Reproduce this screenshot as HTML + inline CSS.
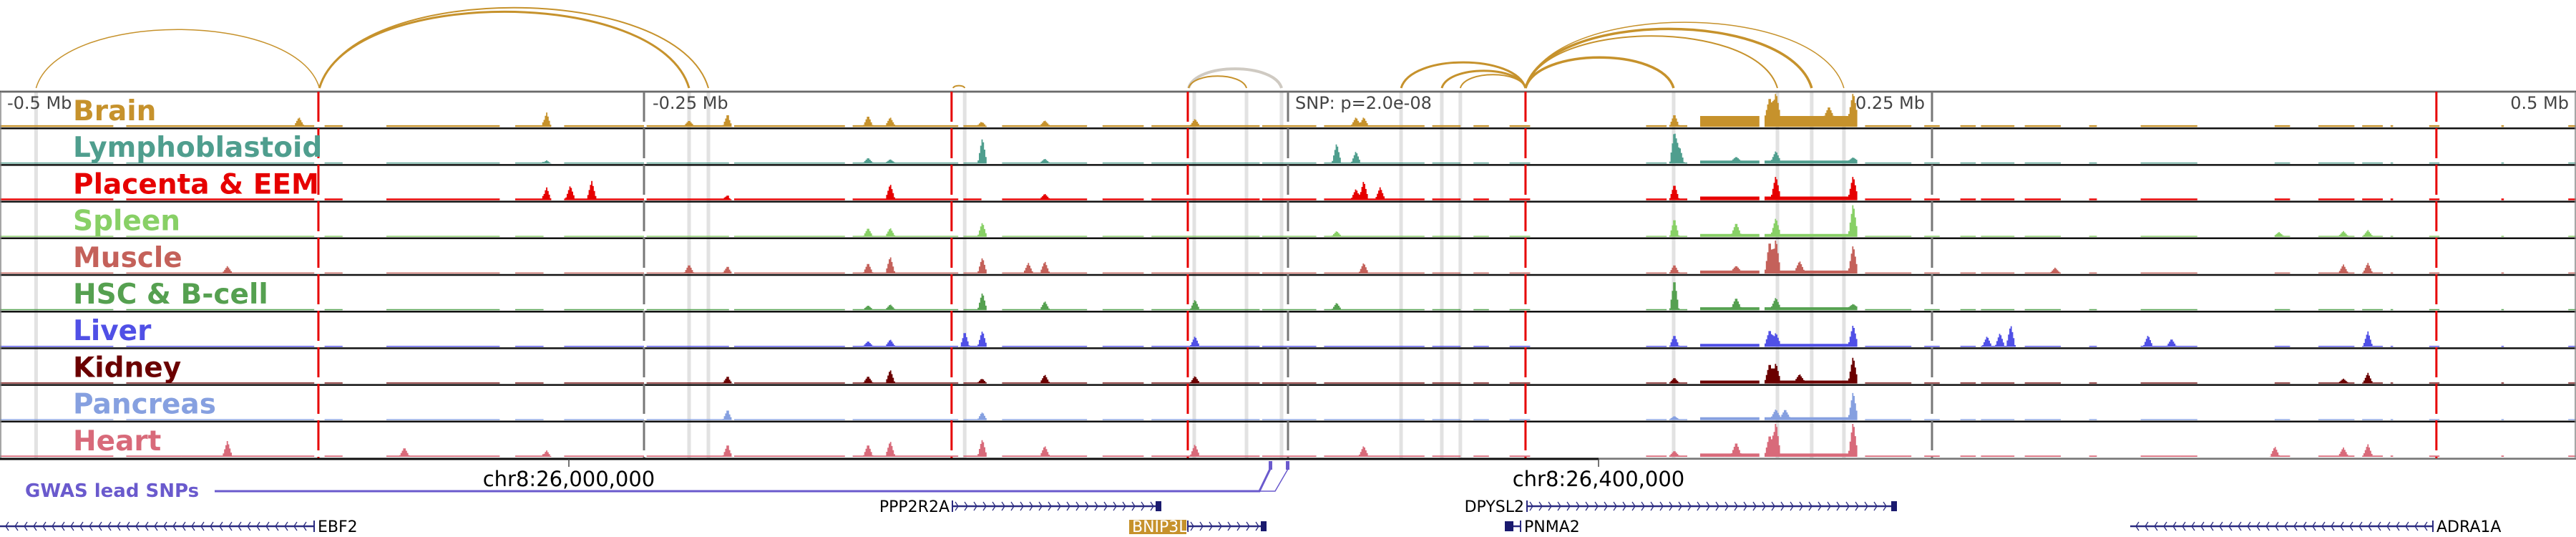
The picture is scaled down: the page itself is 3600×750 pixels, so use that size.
<!DOCTYPE html>
<html><head><meta charset="utf-8">
<style>
html,body{margin:0;padding:0;background:#fff;}
svg{display:block;}
text{font-family:"DejaVu Sans","Liberation Sans",sans-serif;}
</style></head>
<body>
<svg id="chart" width="3600" height="750" viewBox="0 0 3600 750" xmlns="http://www.w3.org/2000/svg">
<g id="bands"></g>
<g id="tracks"></g>
<g id="vlines"></g>
<g id="arcs"></g>
<g id="labels"></g>
<g fill="#444" font-size="24">
  <text x="10" y="152">-0.5 Mb</text>
  <text x="912" y="152">-0.25 Mb</text>
  <text x="1810" y="152">SNP: p=2.0e-08</text>
  <text x="2690" y="152" text-anchor="end">0.25 Mb</text>
  <text x="3590" y="152" text-anchor="end">0.5 Mb</text>
</g>
<g>
  <line x1="0" y1="641" x2="2234" y2="641" stroke="#111" stroke-width="3"/>
  <line x1="2234" y1="641" x2="3600" y2="641" stroke="#777" stroke-width="2"/>
  <line x1="795" y1="641" x2="795" y2="652" stroke="#444" stroke-width="1.5"/>
  <line x1="2234" y1="641" x2="2234" y2="652" stroke="#444" stroke-width="1.5"/>
  <text x="795" y="679" font-size="29" text-anchor="middle" fill="#000">chr8:26,000,000</text>
  <text x="2234" y="679" font-size="29" text-anchor="middle" fill="#000">chr8:26,400,000</text>
</g>
<g>
  <text x="35" y="694" font-size="26" font-weight="bold" fill="#6a5acd">GWAS lead SNPs</text>
  <polyline points="300,686 1760,686 1775,655" fill="none" stroke="#6a5acd" stroke-width="3"/>
  <polyline points="1760,686 1782,686 1800,655" fill="none" stroke="#6a5acd" stroke-width="1.5"/>
  <rect x="1773" y="644" width="5" height="12" fill="#6a5acd"/>
  <rect x="1797" y="644" width="5" height="12" fill="#6a5acd"/>
</g>
<g id="genes"></g>
</svg>
<script>
// ---- data ----
const trackNames = ["Brain","Lymphoblastoid","Placenta & EEM","Spleen","Muscle","HSC & B-cell","Liver","Kidney","Pancreas","Heart"];
const trackColors = ["#c6922c","#4f9e8e","#e60000","#88d066","#c4615a","#55a050","#5050e6","#6b0000","#86a0e0","#d86a7a"];
const baseLevels = [0.05,0.03,0.05,0.03,0.03,0.03,0.03,0.03,0.03,0.04];
const activeSegments = [[-500,-456],[-451,-378],[-374,-367],[-350,-306],[-300,-289],[-281,-250],[-249,-217],[-215,-172],[-169,-128],[-126,-119],[-111,-78],[-72,-56],[-53,-11],[-10,11],[14,53],[56,67],[72,78],[86,94],[139,147],[148,155],[160,183],[185,221],[224,242],[247,253],[261,267],[269,282],[286,300],[311,314],[331,353],[383,389],[400,414],[417,425],[428,429],[443,447],[471,472],[497,500]];
const blockBrain = [[160,221,0.28]];
const blockOther = [[160,221,0.06]];
const peaksBrain = [[-383.9,.25],[-287.8,.45],[-217.5,.35],[-232.5,.15],[-163,.3],[-154.4,.25],[-118.6,.15],[-94.4,.15],[-36.1,.2],[26.4,.25],[29.4,.25],[150,.35],[187,.6],[189.4,.75],[219.4,.75],[210,.3]];
const peaksLympho = [[-287.8,.1],[-163,.15],[-154.4,.1],[-118.6,.8],[-94.4,.12],[18.9,.6],[26.4,.35],[150,1],[152,.5],[174,.12],[189.4,.3],[219.4,.1]];
const peaksPlacenta = [[-287.8,.4],[-278.6,.4],[-270.3,.55],[-154.4,.45],[-94.4,.15],[-217.5,.1],[29.4,.55],[35.8,.35],[26.4,.3],[150,.45],[189.4,.65],[219.4,.65]];
const peaksSpleen = [[-163,.25],[-154.4,.25],[-118.6,.45],[18.9,.15],[150,.55],[174,.35],[189.4,.5],[219.4,.95],[384.7,.12],[409.7,.15],[419.2,.18]];
const peaksMuscle = [[-411.7,.2],[-232.5,.25],[-217.5,.2],[-163,.3],[-154.4,.5],[-118.6,.5],[-100.8,.3],[-94.4,.35],[29.4,.3],[150,.25],[174,.15],[187,.95],[189.4,1],[198.6,.3],[219.4,.8],[297.8,.15],[409.7,.25],[419.2,.3]];
const peaksHSC = [[-163,.12],[-154.4,.15],[-118.6,.55],[-94.4,.25],[-36.1,.3],[18.9,.2],[150,.95],[174,.3],[189.4,.3],[219.4,.1]];
const peaksLiver = [[-163,.15],[-154.4,.2],[-125.5,.45],[-118.6,.5],[-36.1,.3],[150,.35],[187,.45],[189.4,.35],[219.4,.6],[271.4,.3],[276.4,.4],[280.6,.65],[333.9,.33],[343,.22],[419.2,.45]];
const peaksKidney = [[-217.5,.2],[-163,.2],[-154.4,.4],[-118.6,.15],[-94.4,.25],[-36.1,.2],[150,.15],[187,.55],[189.4,.55],[198.6,.2],[219.4,.75],[409.7,.12],[419.2,.3]];
const peaksPancreas = [[-217.5,.3],[-118.6,.25],[150,.1],[189.4,.25],[193,.25],[219.4,.8]];
const peaksHeart = [[-411.7,.45],[-343,.25],[-287.8,.2],[-217.5,.35],[-163,.35],[-154.4,.45],[-118.6,.55],[-94.4,.3],[-36.1,.35],[29.4,.3],[150,.15],[174,.35],[187,.6],[189.4,1],[219.4,1],[383,.3],[409.7,.25],[419.2,.35]];
const arcStarts = [-486,-376,-376,-130,-38.6,-38.6,43.9,59.7,66.9,92.2,92.2,92.2,92.2];
const arcEnds = [-376,-232.5,-225,-125.5,-2.5,-16.1,92.2,92.2,92.2,149.7,190,203.3,215.8];
const arcWidths = [1.5,3,2,2,4,2,3,3,2,3.5,2,3.5,1.5];
const arcGray = [0,0,0,0,1,0,0,0,0,0,0,0,0];
const bandPositions = [-486,-232.5,-225,-125.5,-36.4,-16.1,-2.5,43.9,59.7,66.9,149.7,190,203.3,215.8];
const redLinePositions = [-376.4,-130.6,-38.9,92.2,445.8];
const grayLinePositions = [-250,0,250];
// ---- scales ----
const X0=-500,X1=500,W=3600;
function xs(kb){return (kb-X0)/(X1-X0)*W;}
const T0=128,TH=51.2,NT=10,MAXH=46,PW=1.8;
const NS="http://www.w3.org/2000/svg";
function mk(tag,attrs,parent){const e=document.createElementNS(NS,tag);for(const k in attrs)e.setAttribute(k,attrs[k]);parent.appendChild(e);return e;}
const allPeaks=[peaksBrain,peaksLympho,peaksPlacenta,peaksSpleen,peaksMuscle,peaksHSC,peaksLiver,peaksKidney,peaksPancreas,peaksHeart];
// bands
const gb=document.getElementById('bands');
bandPositions.forEach(p=>{
  const r=mk('rect',{x:xs(p)-2.5,y:T0,width:5,height:TH*NT,fill:'#e2e2e2'},gb);
  
  
});
// tracks
const gt=document.getElementById('tracks');
function inSeg(c){return activeSegments.some(([s,e])=>c>=s&&c<e);}
for(let t=0;t<NT;t++){
  const top=T0+t*TH, base=top+TH-2;
  const blocks=t===0?blockBrain:blockOther;
  let d='';
  for(let k=X0;k<X1;k+=0.5){
    const c=k+0.25;
    let pk=0;
    allPeaks[t].forEach(([p,h])=>{const dd=Math.abs(c-p);if(dd<PW)pk+=h*(1-dd/PW);});
    const seg=inSeg(c);
    if(!seg&&pk<=0)continue;
    let v=pk+(seg?baseLevels[t]:0);
    blocks.forEach(([a,b,h])=>{if(c>=a&&c<=b)v+=h;});
    v=Math.min(v,1);
    const x=xs(k),w=xs(k+0.5)-x,hgt=v*MAXH;
    d+='M'+x.toFixed(1)+' '+base+'h'+w.toFixed(1)+'v'+(-hgt).toFixed(1)+'h'+(-w).toFixed(1)+'Z';
  }
  const p=mk('path',{d:d,fill:trackColors[t]},gt);
  
  
  const ln=mk('line',{x1:0,y1:top,x2:W,y2:top,stroke:'#111',"stroke-width":2.5},gt);
  
  
}
const bx=mk('rect',{x:1,y:T0,width:W-2,height:TH*NT,fill:'none',stroke:'#888',"stroke-width":1.5},gt);


// vertical lines
const gv=document.getElementById('vlines');
redLinePositions.forEach(p=>{
  const l=mk('line',{x1:xs(p),y1:T0,x2:xs(p),y2:T0+TH*NT,stroke:'#e60000',"stroke-width":3,"stroke-dasharray":"42 9"},gv);
  
  
});
grayLinePositions.forEach(p=>{
  const l=mk('line',{x1:xs(p),y1:T0,x2:xs(p),y2:T0+TH*NT,stroke:'#777',"stroke-width":3,"stroke-dasharray":"42 9"},gv);
  
  
});
// arcs
const ga=document.getElementById('arcs');
const AY=123;
arcStarts.forEach((s,i)=>{
  const x1=xs(s),x2=xs(arcEnds[i]),h=0.207*Math.abs(x2-x1);
  const d='M'+x1+' '+AY+'C'+(x1+(x2-x1)*0.08)+' '+(AY-h*1.33)+' '+(x2-(x2-x1)*0.08)+' '+(AY-h*1.33)+' '+x2+' '+AY;
  const a=mk('path',{d:d,fill:'none',stroke:arcGray[i]?'#cfcac2':'#c6922c',"stroke-width":arcWidths[i]},ga);
  
  
});
// labels
const gl=document.getElementById('labels');
trackNames.forEach((n,t)=>{
  const tx=mk('text',{x:102,y:T0+t*TH+40,"font-size":39,"font-weight":"bold",fill:trackColors[t]},gl);
  tx.textContent=n;
  
  
});
// genes
const gg=document.getElementById('genes');
function gene(name,x1,x2,y,dir,label,labelSide,endBox,startBox,hl){
  const g=mk('g',{},gg);
  
  
  mk('line',{x1:x1,y1:y,x2:x2,y2:y,stroke:'#2a2a80',"stroke-width":2.5},g);
  let d='';
  for(let x=x1+8;x<x2-6;x+=13){
    if(dir>0)d+='M'+(x-4)+' '+(y-6)+'L'+x+' '+y+'L'+(x-4)+' '+(y+6);
    else d+='M'+(x+4)+' '+(y-6)+'L'+x+' '+y+'L'+(x+4)+' '+(y+6);
  }
  mk('path',{d:d,fill:'none',stroke:'#2a2a80',"stroke-width":1.3},g);
  if(endBox)mk('rect',{x:x2-5,y:y-7,width:8,height:14,fill:'#1a1a6e'},g);
  if(startBox)mk('rect',{x:x1-12,y:y-7,width:12,height:14,fill:'#1a1a6e'},g);
  mk('line',{x1:dir>0?x1:x2,y1:y-8,x2:dir>0?x1:x2,y2:y+8,stroke:'#2a2a80',"stroke-width":2},g);
  if(hl){mk('rect',{x:hl[0],y:y-9,width:hl[1]-hl[0],height:20,fill:'#c6922c'},g);}
  const t=mk('text',{x:labelSide==='left'?x1-4:(hl?hl[0]+4:x2+5),y:y+8,"font-size":22,fill:hl?'#fff':'#000',"text-anchor":labelSide==='left'?'end':'start'},g);
  t.textContent=label;
}
gene('PPP2R2A',1331,1620,707,1,'PPP2R2A','left',true,false,null);
gene('EBF2',0,439,735,-1,'EBF2','right',false,false,null);
gene('BNIP3L',1660,1767,735,1,'BNIP3L','right',true,false,[1578,1658]);
gene('DPYSL2',2134,2648,707,1,'DPYSL2','left',true,false,null);
gene('PNMA2',2115,2125,735,-1,'PNMA2','right',false,true,null);
gene('ADRA1A',2977,3400,735,-1,'ADRA1A','right',false,false,null);
</script>
</body></html>
